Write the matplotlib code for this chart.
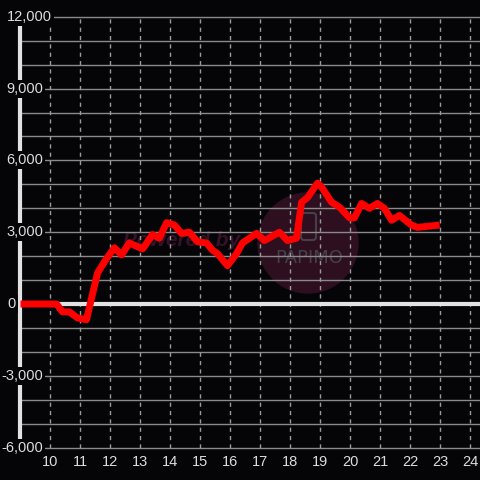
import matplotlib
matplotlib.use("Agg")
import matplotlib.pyplot as plt
from matplotlib.patches import Circle, FancyBboxPatch

# data (hour of day, balance)
hours = [9.0, 10.2, 10.4, 10.63, 10.9, 11.2, 11.37, 11.57, 11.87, 12.13,
         12.37, 12.63, 13.07, 13.4, 13.63, 13.87, 14.13, 14.37, 14.63, 14.9,
         15.2, 15.4, 15.57, 15.9, 16.2, 16.4, 16.87, 17.13, 17.63, 17.9,
         18.2, 18.37, 18.57, 18.9, 19.03, 19.37, 19.63, 19.97, 20.13, 20.37,
         20.63, 20.9, 21.13, 21.37, 21.63, 22.03, 22.23, 22.97]
values = [0, 0, -330, -330, -580, -660, 250, 1300, 1900, 2350,
          2050, 2550, 2300, 2900, 2750, 3400, 3300, 2950, 3000, 2600,
          2550, 2250, 2100, 1600, 2100, 2550, 2950, 2650, 3000, 2650,
          2750, 4250, 4450, 5050, 4900, 4250, 4050, 3600, 3600, 4200,
          4000, 4200, 4000, 3500, 3700, 3300, 3200, 3300]

x_ticks = list(range(10, 25))
y_ticks = [12000, 9000, 6000, 3000, 0, -3000, -6000]
y_grid = list(range(-6000, 12001, 1000))

bg = "#050407"
txt = "#dcdcdc"

fig = plt.figure(figsize=(4.8, 4.8), dpi=100, facecolor=bg)
ax = fig.add_axes([0, 0, 1, 1], facecolor=bg)
ax.set_xlim(8.317, 24.317)
ax.set_ylim(-7355, 12704)
ax.axis("off")

# watermark
ax.add_patch(Circle((308 / 480, 1 - 243 / 480), 50 / 480, transform=ax.transAxes,
                    color="#2d0f20", zorder=0))
ax.add_patch(FancyBboxPatch((301 / 480, 1 - 240 / 480), 15 / 480, 27 / 480,
                            boxstyle="round,pad=0,rounding_size=0.006",
                            transform=ax.transAxes, fill=False,
                            edgecolor="#45404a", linewidth=1.5, zorder=0.5))
ax.text(309 / 480, 1 - 258 / 480, "PAPIMO", transform=ax.transAxes,
        ha="center", va="center", fontsize=13, color="#45404a",
        family="DejaVu Sans", zorder=0.5)
ax.text(182 / 480, 1 - 240 / 480, "Powered by", transform=ax.transAxes,
        ha="center", va="center", fontsize=15, color="#35122a",
        family="Liberation Sans", fontweight="bold", fontstyle="italic",
        zorder=0.5)

# grid
for v in y_grid:
    ax.plot([9.0, 24.317], [v, v], color="#8a8a8a", lw=1, zorder=1)
for h in x_ticks:
    ax.plot([h, h], [-6000, 12000], color="#9a9a9a", lw=1,
            linestyle=(0, (3, 3)), zorder=1)

# zero line and left axis
ax.plot([9.0, 24.317], [0, 0], color="#e2e2e2", lw=3, zorder=2)
ax.plot([9.0, 9.0], [-6000, 12000], color="#e2e2e2", lw=3, zorder=2)

# balance line
ax.plot(hours, values, color="#ff0000", lw=5, solid_joinstyle="round",
        solid_capstyle="butt", zorder=4)

# tick labels (placed like the source chart does)
px = 1 / 30.0  # hours per pixel
for v in y_ticks:
    label = f"{v:,}"
    if v == 12000:
        x, ha = 8.317 + 7 * px, "left"
    elif v == 0:
        x, ha = 8.317 + 12 * px, "center"
    else:
        x, ha = 8.317 + 43 * px, "right"
    ax.text(x, v, label, ha=ha, va="center", fontsize=10.5,
            color=txt, family="Liberation Sans", zorder=3,
            bbox=dict(facecolor=bg, edgecolor="none", pad=1.5))
for h in x_ticks:
    ax.text(h, -6000 - 14 / 0.02393, str(h), ha="center", va="center",
            fontsize=10.5, color=txt, family="Liberation Sans", zorder=3)

plt.savefig("out.png", dpi=100, facecolor=bg)
